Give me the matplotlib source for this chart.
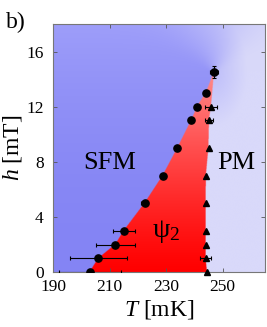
import numpy as np
import matplotlib
matplotlib.use("Agg")
import matplotlib.pyplot as plt

plt.rcParams['font.family'] = ['Liberation Serif', 'DejaVu Serif']
plt.rcParams['mathtext.fontset'] = 'custom'
plt.rcParams['mathtext.rm'] = 'Liberation Serif'
plt.rcParams['mathtext.it'] = 'Liberation Serif:italic'

# SFM -> psi2 boundary (circles)
circ_h = [0, 1, 2, 3, 5, 7, 9, 11, 12, 13, 14.5]
circ_T = [202.9, 206.0, 212.0, 215.0, 222.4, 228.8, 234.0, 238.9, 241.0, 244.1, 247.0]
circ_Terr = [11, 10, 7, 4, 1.2, 0, 0, 0, 0, 0, 1.4]
circ_herr = [0, 0, 0, 0, 0, 0, 0, 0, 0, 0, 0.45]

# psi2 -> PM boundary (triangles)
tri_h = [0, 1, 2, 3, 5, 7, 9, 11, 12]
tri_T = [244.5, 244.0, 244.0, 244.0, 244.0, 244.1, 245.0, 245.2, 245.9]
tri_Terr = [0, 2, 0, 0, 0, 0, 0, 1.3, 2]

xticks = [190, 210, 230, 250]
yticks = [0, 4, 8, 12, 16]

fig = plt.figure(figsize=(2.67, 3.27), dpi=100)
ax = fig.add_axes([0.1996, 0.168, 0.7929, 0.7586])
xmin, xmax, ymin, ymax = 190, 265, 0, 18

# background field
nx, ny = 900, 900
T = np.linspace(xmin, xmax, nx)
H = np.linspace(ymin, ymax, ny)
TT, HH = np.meshgrid(T, H)
h_tip, T_tip = circ_h[-1], circ_T[-1]
rb_h = np.array(tri_h + [h_tip])
rb_T = np.array(tri_T + [T_tip])
left = np.interp(HH, circ_h, circ_T)
right = np.interp(HH, rb_h, rb_T)

blue = np.array([132, 132, 244]) / 255.
blue_top = np.array([158, 158, 250]) / 255.
pm = np.array([217, 217, 250]) / 255.

below = HH <= h_tip
s = np.where(TT > right, 1.0, 0.0)
dh = np.clip(HH - h_tip, 0, None)
w = 0.6 + 4.5 * dh
s_above = 0.5 + 0.5 * np.tanh((TT - T_tip) / w)
s = np.where(below, s, s_above)
d_tip = np.hypot((TT - T_tip) / 12.0, (HH - h_tip) / 4.0)
pm_mix = np.clip(d_tip, 0, 1)[..., None]
pm_col = pm * pm_mix + np.array([190, 190, 250]) / 255. * (1 - pm_mix)
t = np.clip(HH / ymax, 0, 1)[..., None] ** 2
blue_col = blue * (1 - t) + blue_top * t
img = blue_col * (1 - s[..., None]) + pm_col * s[..., None]

red_mask = below & (TT >= left) & (TT <= right)
g = 140 * np.clip(HH / h_tip, 0, 1) ** 1.2 / 255.
red = np.stack([np.ones_like(g), g, g], axis=-1)
img = np.where(red_mask[..., None], red, img)

ax.imshow(img, extent=[xmin, xmax, ymin, ymax], origin='lower',
          aspect='auto', interpolation='bilinear', zorder=0)

ax.errorbar(circ_T, circ_h, xerr=circ_Terr, yerr=circ_herr, fmt='o',
            color='black', ms=5.2, elinewidth=0.8, capsize=1.5,
            capthick=0.8, zorder=3)
ax.errorbar(tri_T, tri_h, xerr=tri_Terr, fmt='^', color='black', ms=5,
            elinewidth=0.8, capsize=1.5, capthick=0.8, zorder=3,
            clip_on=False)

ax.set_xlim(xmin, xmax)
ax.set_ylim(ymin, ymax)
ax.set_xticks(xticks)
ax.set_yticks(yticks)
ax.tick_params(direction='in', length=3, width=0.6, color='#555555',
               top=True, right=True, labelsize=12.5)
ax.tick_params(axis='x', pad=5)
ax.tick_params(axis='y', pad=7)
for sp in ax.spines.values():
    sp.set_color('#777777')
    sp.set_linewidth(0.8)

ax.set_xlabel(r'$T$ [mK]', fontsize=17, labelpad=0)
ax.set_ylabel(r'$h$ [mT]', fontsize=17, labelpad=2)
ax.xaxis.set_label_coords(0.5, -0.105)
ax.yaxis.set_label_coords(-0.14, 0.5)

ax.text(210, 7.9, 'SFM', fontsize=19, ha='center', va='center', zorder=4)
ax.text(255, 7.9, 'PM', fontsize=19, ha='center', va='center', zorder=4)
ax.text(230, 2.95, r'$\mathrm{\psi}_2$', fontsize=20, ha='center',
        va='center', zorder=4)
fig.text(0.022, 0.914, 'b)', fontsize=17, ha='left', va='baseline')

fig.savefig('out.png', dpi=100)
